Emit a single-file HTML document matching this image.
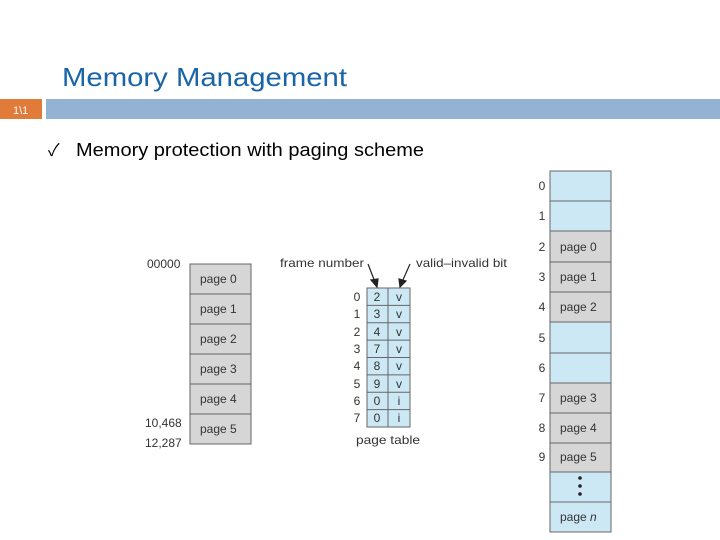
<!DOCTYPE html>
<html><head><meta charset="utf-8"><style>
html,body{margin:0;padding:0;background:#fff;width:720px;height:540px;overflow:hidden}
svg{display:block}
text{font-family:"Liberation Sans","Noto Sans CJK SC",sans-serif}
</style></head><body>
<svg width="720" height="540" viewBox="0 0 720 540">
<text x="62" y="86" font-size="26" fill="#1a64a8" textLength="285" lengthAdjust="spacingAndGlyphs">Memory Management</text>
<rect x="0" y="99" width="42" height="20" fill="#e07b39"/>
<text x="13" y="114" font-size="11" fill="#fff">1\1</text>
<rect x="46" y="99" width="674" height="20" fill="#94b3d3"/>
<text x="48" y="156" font-size="17" fill="#000">✓</text>
<text x="76" y="156" font-size="18" fill="#000" textLength="348" lengthAdjust="spacingAndGlyphs">Memory protection with paging scheme</text>

<g font-size="12" fill="#333">
<g stroke="#666" stroke-width="1" fill="#d6d6d6">
<rect x="190" y="264" width="61" height="30"/><rect x="190" y="294" width="61" height="30"/>
<rect x="190" y="324" width="61" height="30"/><rect x="190" y="354" width="61" height="30"/>
<rect x="190" y="384" width="61" height="30"/><rect x="190" y="414" width="61" height="30"/>
</g>
<text x="200" y="283">page 0</text><text x="200" y="313">page 1</text><text x="200" y="343">page 2</text>
<text x="200" y="373">page 3</text><text x="200" y="403">page 4</text><text x="200" y="433">page 5</text>
<text x="147" y="268">00000</text><text x="145" y="427">10,468</text><text x="145" y="447">12,287</text>

<g stroke="#666" stroke-width="1" fill="#cde8f5">
<rect x="367" y="288" width="43" height="139"/>
</g>
<g stroke="#666" stroke-width="1">
<line x1="388" y1="288" x2="388" y2="427"/>
<line x1="367" y1="305.4" x2="410" y2="305.4"/><line x1="367" y1="322.8" x2="410" y2="322.8"/>
<line x1="367" y1="340.1" x2="410" y2="340.1"/><line x1="367" y1="357.5" x2="410" y2="357.5"/>
<line x1="367" y1="374.9" x2="410" y2="374.9"/><line x1="367" y1="392.3" x2="410" y2="392.3"/>
<line x1="367" y1="409.6" x2="410" y2="409.6"/>
</g>
<g text-anchor="middle">
<text x="357" y="301">0</text><text x="357" y="318">1</text><text x="357" y="336">2</text><text x="357" y="353">3</text>
<text x="357" y="370">4</text><text x="357" y="388">5</text><text x="357" y="405">6</text><text x="357" y="422">7</text>
<text x="377" y="301">2</text><text x="377" y="318">3</text><text x="377" y="336">4</text><text x="377" y="353">7</text>
<text x="377" y="370">8</text><text x="377" y="388">9</text><text x="377" y="405">0</text><text x="377" y="422">0</text>
<text x="399" y="301">v</text><text x="399" y="318">v</text><text x="399" y="336">v</text><text x="399" y="353">v</text>
<text x="399" y="370">v</text><text x="399" y="388">v</text><text x="399" y="405">i</text><text x="399" y="422">i</text>
</g>
<text x="356" y="444" textLength="64" lengthAdjust="spacingAndGlyphs">page table</text>
<text x="280" y="267" textLength="84" lengthAdjust="spacingAndGlyphs">frame number</text>
<text x="416" y="267" textLength="91" lengthAdjust="spacingAndGlyphs">valid–invalid bit</text>
<g stroke="#222" stroke-width="1.2" fill="#222">
<line x1="368" y1="264" x2="375" y2="282"/><polygon points="377,287 371,280 378,279"/>
<line x1="410" y1="264" x2="402" y2="282"/><polygon points="400,287 399,279 406,281"/>
</g>

<g stroke="#666" stroke-width="1">
<rect x="550" y="171" width="61" height="30" fill="#cde8f5"/>
<rect x="550" y="201" width="61" height="30" fill="#cde8f5"/>
<rect x="550" y="231" width="61" height="31" fill="#d6d6d6"/>
<rect x="550" y="262" width="61" height="30" fill="#d6d6d6"/>
<rect x="550" y="292" width="61" height="30" fill="#d6d6d6"/>
<rect x="550" y="322" width="61" height="31" fill="#cde8f5"/>
<rect x="550" y="353" width="61" height="30" fill="#cde8f5"/>
<rect x="550" y="383" width="61" height="30" fill="#d6d6d6"/>
<rect x="550" y="413" width="61" height="30" fill="#d6d6d6"/>
<rect x="550" y="443" width="61" height="29" fill="#d6d6d6"/>
<rect x="550" y="472" width="61" height="30" fill="#cde8f5"/>
<rect x="550" y="502" width="61" height="30" fill="#cde8f5"/>
</g>
<g text-anchor="middle">
<text x="542" y="190">0</text><text x="542" y="220">1</text><text x="542" y="251">2</text><text x="542" y="281">3</text>
<text x="542" y="311">4</text><text x="542" y="342">5</text><text x="542" y="372">6</text><text x="542" y="402">7</text>
<text x="542" y="432">8</text><text x="542" y="461">9</text>
</g>
<text x="560" y="251">page 0</text><text x="560" y="281">page 1</text><text x="560" y="311">page 2</text>
<text x="560" y="402">page 3</text><text x="560" y="432">page 4</text><text x="560" y="461">page 5</text>
<text x="560" y="521">page <tspan font-style="italic">n</tspan></text>
<circle cx="580" cy="478" r="1.8" fill="#222"/><circle cx="580" cy="486" r="1.8" fill="#222"/><circle cx="580" cy="494" r="1.8" fill="#222"/>
</g>
</svg>
</body></html>
